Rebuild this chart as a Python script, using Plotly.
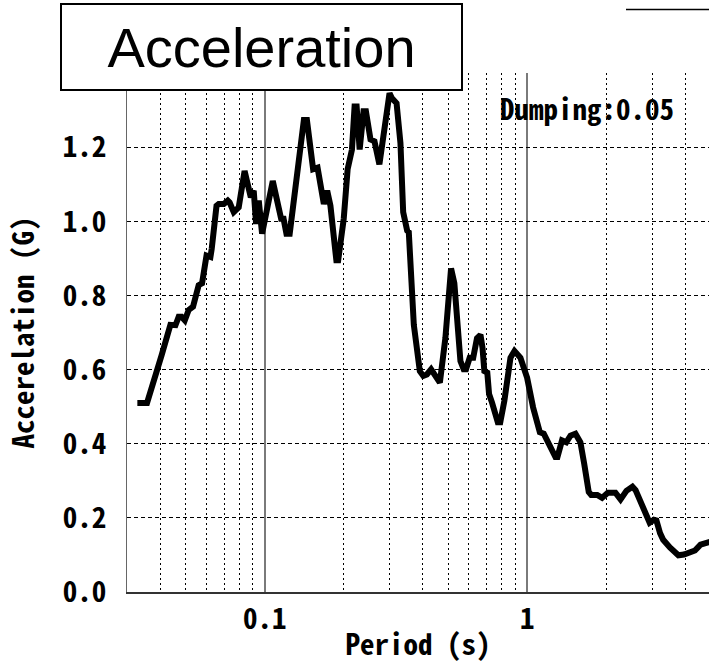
import numpy as np
import plotly.graph_objects as go

# Response spectrum: natural period (s) vs. spectral acceleration (G), damping 0.05
period = [
    0.0327, 0.0356, 0.0405, 0.0437, 0.0457, 0.0470, 0.0482, 0.0496, 0.0513,
    0.0533, 0.0560, 0.0577, 0.0600, 0.0621, 0.0628, 0.0655, 0.0668, 0.0698,
    0.0723, 0.0735, 0.0762, 0.0796, 0.0838, 0.0870, 0.0885, 0.0908, 0.0927,
    0.0949, 0.0977, 0.1073, 0.1155, 0.1180, 0.1210, 0.1245, 0.1328, 0.1410,
    0.1448, 0.1529, 0.1590, 0.1680, 0.1730, 0.1780, 0.1875, 0.1905, 0.2000,
    0.2070, 0.2150, 0.2200, 0.2240, 0.2300, 0.2380, 0.2430, 0.2530, 0.2620,
    0.2735, 0.2990, 0.3050, 0.3180, 0.3290, 0.3370, 0.3490, 0.3540, 0.3700,
    0.3900, 0.4020, 0.4150, 0.4306, 0.4400, 0.4650, 0.4880, 0.5130, 0.5280,
    0.5570, 0.5730, 0.5850, 0.6040, 0.6230, 0.6440, 0.6640, 0.6760, 0.6870,
    0.7050, 0.7160, 0.7350, 0.7730, 0.7900, 0.8190, 0.8640, 0.8950, 0.9430,
    1.0000, 1.0540, 1.1180, 1.1570, 1.2100, 1.2820, 1.3050, 1.3580, 1.4100,
    1.4630, 1.5280, 1.5960, 1.6500, 1.7170, 1.7550, 1.8500, 1.9300, 2.0300,
    2.1700, 2.2700, 2.3900, 2.5200, 2.5900, 2.7400, 2.9300, 3.0400, 3.1100,
    3.2100, 3.3000, 3.5000, 3.7700, 3.9600, 4.2400, 4.3600, 4.5800, 4.7900,
    5.0000,
]
accel = [
    0.510, 0.510, 0.640, 0.721, 0.720, 0.743, 0.743, 0.733, 0.761,
    0.770, 0.828, 0.833, 0.908, 0.904, 0.926, 1.042, 1.047, 1.047,
    1.056, 1.051, 1.025, 1.038, 1.136, 1.078, 1.065, 1.083, 0.993,
    1.056, 0.967, 1.109, 1.007, 1.007, 0.967, 0.967, 1.114, 1.274,
    1.274, 1.141, 1.145, 1.047, 1.083, 1.042, 0.895, 0.895, 1.007,
    1.141, 1.194, 1.310, 1.310, 1.194, 1.297, 1.297, 1.221, 1.216,
    1.154, 1.346, 1.333, 1.319, 1.212, 1.025, 0.975, 0.971, 0.721,
    0.596, 0.583, 0.587, 0.601, 0.592, 0.565, 0.685, 0.873, 0.833,
    0.623, 0.601, 0.601, 0.632, 0.632, 0.685, 0.694, 0.659, 0.596,
    0.592, 0.534, 0.511, 0.458, 0.458, 0.516, 0.632, 0.650, 0.632,
    0.578, 0.498, 0.431, 0.427, 0.400, 0.364, 0.364, 0.409, 0.404,
    0.422, 0.427, 0.404, 0.346, 0.270, 0.262, 0.262, 0.254, 0.268,
    0.268, 0.250, 0.273, 0.284, 0.275, 0.230, 0.187, 0.195, 0.193,
    0.159, 0.141, 0.120, 0.099, 0.101, 0.110, 0.112, 0.128, 0.134,
    0.136,
]

# 1.4 carries only the top grid line; its label sits under the heading box
y_ticks = [0.0, 0.2, 0.4, 0.6, 0.8, 1.0, 1.2, 1.4]
y_tick_text = ["0.0", "0.2", "0.4", "0.6", "0.8", "1.0", "1.2", ""]
x_major = [0.1, 1]
x_major_text = ["0.1", "1"]
x_minor = [0.03, 0.04, 0.05, 0.06, 0.07, 0.08, 0.09,
           0.2, 0.3, 0.4, 0.5, 0.6, 0.7, 0.8, 0.9, 2, 3, 4]

GOTHIC = "Noto Sans Mono CJK JP, Noto Sans CJK JP, DejaVu Sans Mono, monospace"
gothic = dict(family=GOTHIC, size=29, color="black", weight="bold")

fig = go.Figure()
fig.add_trace(go.Scatter(
    x=period, y=accel, mode="lines",
    line=dict(color="black", width=6),
    showlegend=False, hoverinfo="skip",
))

W, H = 709, 663
L, R, T, B = 127, 0, 73, 67
plot_w = W - L - R
plot_h = H - T - B
decade_px = 262.4
x_lo = np.log10(0.03) - 0.002
x_hi = x_lo + plot_w / decade_px

fig.update_layout(
    width=W, height=H,
    margin=dict(l=L, r=R, t=T, b=B, pad=0),
    paper_bgcolor="white", plot_bgcolor="white",
    font=gothic,
    xaxis=dict(
        type="log", range=[x_lo, x_hi],
        tickmode="array", tickvals=x_major, ticktext=x_major_text,
        showgrid=True, gridcolor="#7a7a7a", gridwidth=1.5,
        minor=dict(tickmode="array", tickvals=x_minor, showgrid=True,
                   gridcolor="black", gridwidth=1, griddash="2px,3px",
                   ticks=""),
        ticks="", showline=True, linecolor="#333333", linewidth=1.5,
        tickfont=gothic,
        ticklabelstandoff=0,
        zeroline=False,
        title=dict(text="Period (s)", font=gothic, standoff=6),
    ),
    yaxis=dict(
        range=[0, 1.4005],
        tickmode="array", tickvals=y_ticks, ticktext=y_tick_text,
        showgrid=True, gridcolor="black", gridwidth=1, griddash="4px,3px",
        ticks="", showline=True, linecolor="#666666", linewidth=1,
        zeroline=False,
        tickfont=gothic,
        ticklabelstandoff=14,
        title=dict(text="Accerelation (G)", font=gothic, standoff=24),
    ),
)

# Boxed chart heading in the top-left corner
fig.add_annotation(
    xref="paper", yref="paper",
    x=(261.5 - L) / plot_w, y=(596 - 47) / plot_h,
    xanchor="center", yanchor="middle",
    text="Acceleration", showarrow=False,
    font=dict(family="Liberation Sans, Arial, sans-serif", size=56,
              color="black", weight="normal"),
    bgcolor="white", bordercolor="black", borderwidth=2, borderpad=0,
    width=399, height=84,
)

# Damping ratio note
fig.add_annotation(
    xref="paper", yref="paper",
    x=(498 - L) / plot_w, y=(596 - 107) / plot_h,
    xanchor="left", yanchor="middle",
    text="Dumping:0.05", showarrow=False,
    font=gothic,
)

# Edge of the legend frame at the top right
fig.add_shape(
    type="line", xref="paper", yref="paper",
    x0=(626 - L) / plot_w, x1=1.02,
    y0=(596 - 9) / plot_h, y1=(596 - 9) / plot_h,
    line=dict(color="black", width=1.5),
)

fig.write_html("out.html")
